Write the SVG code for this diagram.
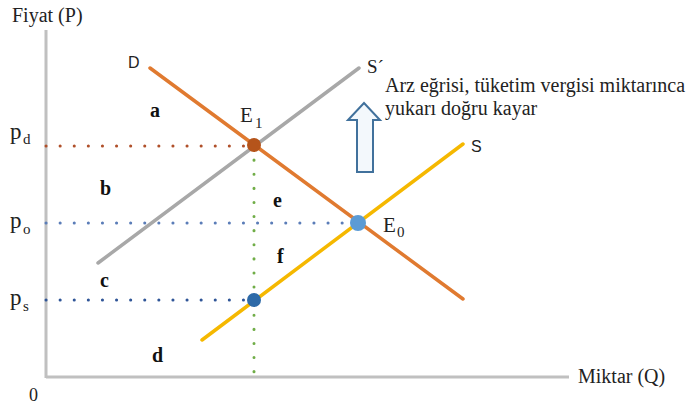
<svg xmlns="http://www.w3.org/2000/svg" width="688" height="407" viewBox="0 0 688 407">
<style>
.serif{font-family:'Liberation Serif','DejaVu Serif',serif;fill:#222}
.sans{font-family:'Liberation Sans','DejaVu Sans',sans-serif;fill:#222}
.lbl{font-family:'Liberation Serif','DejaVu Serif',serif;font-weight:bold;font-size:20px;fill:#111}
.axis{stroke:#c0c0c0;stroke-width:3;fill:none}
.dot{stroke-width:3;stroke-linecap:round;stroke-dasharray:0.1 14;fill:none}
.curve{stroke-width:3.5;stroke-linecap:round;fill:none}
</style>
<rect width="688" height="407" fill="#fff"/>
<g id="axes">
<line class="axis" x1="46" y1="30" x2="46" y2="378"/>
<line class="axis" x1="46" y1="377" x2="569" y2="377"/>
<text class="serif" font-family="Liberation Serif, serif" x="12" y="22" font-size="20">Fiyat (P)</text>
<text class="serif" font-family="Liberation Serif, serif" x="578" y="383" font-size="20">Miktar (Q)</text>
<text class="serif" x="29" y="401" font-size="18">0</text>
</g>
<g id="connectors">
<line class="dot" x1="46" y1="146" x2="254" y2="146" stroke="#b0502a"/>
<line class="dot" x1="46" y1="223" x2="357" y2="223" stroke="#5b7db8"/>
<line class="dot" x1="46" y1="300" x2="254" y2="300" stroke="#2f5597"/>
<line class="dot" x1="254" y1="146" x2="254" y2="378" stroke="#70ad47"/>
<line id="curve-Sprime" class="curve" x1="98" y1="263" x2="359" y2="68" stroke="#a8a8a8"/>
<line id="curve-S" class="curve" x1="202" y1="340" x2="463" y2="144" stroke="#f5b800"/>
<line id="curve-D" class="curve" x1="150" y1="68" x2="463" y2="299" stroke="#e07a30"/>
</g>
<g id="E1"><circle cx="254" cy="145" r="7" fill="#b5541b"/>
<text class="serif" x="240" y="122" font-size="21">E</text><text class="serif" x="255" y="128" font-size="15">1</text></g>
<g id="E0"><circle cx="358" cy="223" r="8" fill="#5b9bd5"/>
<text class="serif" x="383" y="232" font-size="21">E</text><text class="serif" x="397" y="237" font-size="15">0</text></g>
<g id="Ps"><circle cx="254" cy="300" r="7" fill="#2e6aa8"/></g>
<g id="price-labels">
<text class="serif" x="10" y="139" font-size="23">p</text><text class="serif" x="23" y="144" font-size="15">d</text>
<text class="serif" x="10" y="228" font-size="23">p</text><text class="serif" x="23" y="234" font-size="15">o</text>
<text class="serif" x="10" y="305" font-size="23">p</text><text class="serif" x="23" y="311" font-size="15">s</text>
</g>
<g id="curve-labels">
<text class="sans" x="128" y="68" font-size="16">D</text>
<text class="serif" x="367" y="73" font-size="19">S´</text>
<text class="sans" x="471" y="152" font-size="16">S</text>
</g>
<g id="areas">
<text class="lbl" x="150" y="117">a</text>
<text class="lbl" x="100" y="195">b</text>
<text class="lbl" x="100" y="287">c</text>
<text class="lbl" x="152" y="362">d</text>
<text class="lbl" x="273" y="207">e</text>
<text class="lbl" x="277" y="263">f</text>
</g>
<g id="shift-note">
<polygon points="364,103 380,120 373,120 373,172 357,172 357,120 348,120" fill="#f3f8fc" stroke="#41719c" stroke-width="2" stroke-linejoin="miter"/>
<text class="serif" x="385" y="92" font-size="20">Arz eğrisi, tüketim vergisi miktarınca</text>
<text class="serif" x="385" y="115" font-size="20">yukarı doğru kayar</text>
</g>
</svg>
